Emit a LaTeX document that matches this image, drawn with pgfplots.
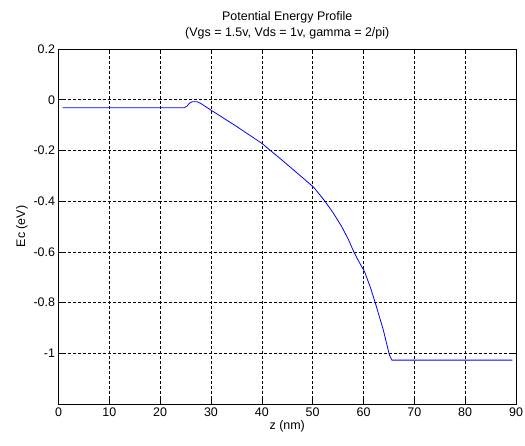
\documentclass[border=0pt]{standalone}
\usepackage{fontspec}
\setmainfont{Liberation Sans}
\usepackage{pgfplots}
\pgfplotsset{compat=1.18}
\begin{document}
\begin{tikzpicture}
\begin{axis}[
  scale only axis,
  width=457.5bp, height=355bp,
  xmin=0, xmax=90, ymin=-1.2, ymax=0.2,
  xtick={0,10,...,90},
  ytick={-1.2,-1,-0.8,-0.6,-0.4,-0.2,0,0.2},
  yticklabels={,-1,-0.8,-0.6,-0.4,-0.2,0,0.2},
  /pgf/number format/assume math mode=true,
  tick align=inside,
  major tick length=5bp,
  tick style={black, line width=0.6bp},
  axis line style={black, line width=0.6bp},
  grid=major,
  major grid style={black, dash pattern=on 3bp off 2bp, line width=0.5bp},
  ticklabel style={font=\fontsize{12.5}{14}\selectfont},
  label style={font=\fontsize{12.5}{14}\selectfont},
  title style={font=\fontsize{12.5}{16}\selectfont, align=center, yshift=0bp},
  title={Potential Energy Profile\\(Vgs = 1.5v, Vds = 1v, gamma = 2/pi)},
  xlabel={z (nm)},
  ylabel={Ec (eV)},
  xlabel style={yshift=3bp},
  ylabel style={yshift=-1bp},
  clip=false,
]
\addplot[color={rgb,255:red,0;green,0;blue,255}, line width=0.8bp] coordinates {
(0.8,-0.032)
(24.7,-0.032)
(25.3,-0.025)
(25.8,-0.013)
(26.3,-0.008)
(27.3,-0.008)
(28,-0.015)
(30,-0.041)
(35,-0.105)
(40,-0.172)
(43.6,-0.232)
(47,-0.29)
(50.2,-0.345)
(52.4,-0.4)
(54,-0.445)
(55.7,-0.5)
(57,-0.55)
(58.1,-0.6)
(59,-0.635)
(60.2,-0.678)
(61.3,-0.737)
(62.3,-0.8)
(63.9,-0.908)
(65.1,-1.007)
(65.6,-1.027)
(89.3,-1.027)
};
\coordinate (ll) at (rel axis cs:0,0);
\coordinate (ur) at (rel axis cs:1,1);
\end{axis}
\pgfresetboundingbox
\path ([shift={(-58.5bp,-42bp)}]ll) rectangle ([shift={(9bp,49bp)}]ur);
\end{tikzpicture}
\end{document}
